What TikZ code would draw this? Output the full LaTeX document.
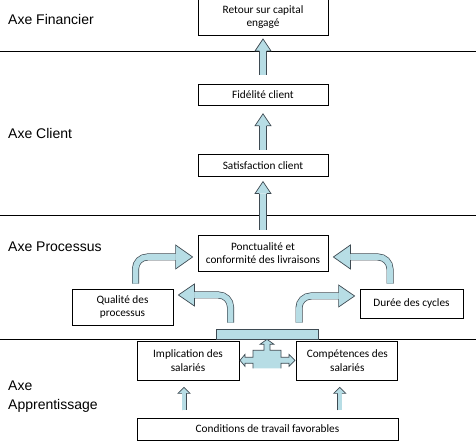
\documentclass[tikz,border=0pt]{standalone}
\usepackage{fontspec}
\setmainfont{Carlito}
\newfontfamily\axefont{Liberation Sans}
\usepackage{xcolor}
\usepackage{tikz}
\usetikzlibrary{positioning}

\definecolor{arrowfill}{RGB}{183,221,229}
\definecolor{arrowline}{RGB}{62,74,82}

\newcommand{\blkhead}[5]{%
  \begin{scope}[shift={(#1)}, rotate=#2]
    \fill[arrowfill] (0,-#3) -- (#4,0) -- (0,#3) -- cycle;
    \draw[arrowline, line width=0.7pt, line join=miter] (0,-#5) -- (0,-#3) -- (#4,0) -- (0,#3) -- (0,#5);
  \end{scope}}

\begin{document}
\begin{tikzpicture}[
    x=1pt, y=1pt,
    box/.style={draw, line width=0.8pt, fill=white, align=center, inner sep=1pt,
                font=\fontsize{11.3}{13.5}\selectfont},
    axe/.style={anchor=west, inner sep=0pt, align=left,
                font=\axefont\fontsize{14}{19}\selectfont},
    sepline/.style={line width=0.8pt},
    shaft/.style={draw=arrowline, line width=0.7pt, double=arrowfill, double distance=#1},
    shaft/.default=6.6pt,
    plat/.style={draw=arrowline, line width=0.7pt, fill=arrowfill, minimum width=102pt,
                 minimum height=10pt, inner sep=0pt}
]
    \useasboundingbox (0,0) rectangle (476,443);

    \draw[sepline] (0,392) -- (476,392);
    \draw[sepline] (0,228) -- (476,228);
    \draw[sepline] (0,104) -- (476,104);

    \node[axe] (financier)   at (8,423) {Axe Financier};
    \node[axe] (client)      at (8,309) {Axe Client};
    \node[axe] (processus)   at (8,196) {Axe Processus};
    \node[axe] (apprent)     at (8,46)  {Axe\\Apprentissage};

    \node[box, minimum width=130pt, minimum height=36pt] (pon) at (263,190) {Ponctualité et\\conformité des livraisons};
    \node[box, minimum width=130pt, minimum height=22pt, above=58pt of pon] (sat) {Satisfaction client};
    \node[box, minimum width=130pt, minimum height=21pt, above=48pt of sat] (fid) {Fidélité client};
    \node[box, minimum width=130pt, minimum height=37pt, above=48pt of fid] (ret) {Retour sur capital\\engagé};

    \node[box, minimum width=101pt, minimum height=36pt] (qual) at (122.5,136) {Qualité des\\processus};
    \node[box, minimum width=103pt, minimum height=29pt] (dur)  at (411.5,139.5) {Durée des cycles};

    \node[box, minimum width=102pt, minimum height=39pt] (impl) at (188,82.5) {Implication des\\salariés};
    \node[box, minimum width=101pt, minimum height=39pt, right=57pt of impl] (comp) {Compétences des\\salariés};
    \node[box, minimum width=261pt, minimum height=22pt] (cond) at (267.5,14) {Conditions de travail favorables};

    \node[plat] (platf) at (267,109) {};

    \draw[shaft] ([yshift=9pt]fid.north) -- ([yshift=-15pt]ret.south);
    \blkhead{[yshift=-15pt]ret.south}{90}{8}{12}{3.65}
    \draw[shaft] ([yshift=4pt]sat.north) -- ([yshift=-20pt]fid.south);
    \blkhead{[yshift=-20pt]fid.south}{90}{8}{12}{3.65}
    \draw[shaft] ([yshift=5pt]pon.north) -- ([yshift=-17pt]sat.south);
    \blkhead{[yshift=-17pt]sat.south}{90}{8}{12}{3.65}

    \draw[shaft=5.6pt, rounded corners=12pt] ([xshift=13pt,yshift=5pt]qual.north) |- ([xshift=-22pt,yshift=-4pt]pon.west);
    \blkhead{[xshift=-22pt,yshift=-4pt]pon.west}{0}{12}{17}{3.15}
    \draw[shaft=5.6pt, rounded corners=12pt] ([xshift=-21.5pt,yshift=5pt]dur.north) |- ([xshift=22pt,yshift=-4pt]pon.east);
    \blkhead{[xshift=22pt,yshift=-4pt]pon.east}{180}{12}{17}{3.15}

    \draw[shaft=5.6pt, rounded corners=12pt] ([xshift=-36.5pt,yshift=6pt]platf.north) |- ([xshift=21pt,yshift=12pt]qual.east);
    \blkhead{[xshift=21pt,yshift=12pt]qual.east}{180}{11}{16}{3.15}
    \draw[shaft=5.6pt, rounded corners=12pt] ([xshift=32pt,yshift=6pt]platf.north) |- ([xshift=-21pt,yshift=7.5pt]dur.west);
    \blkhead{[xshift=-21pt,yshift=7.5pt]dur.west}{0}{11}{16}{3.15}

    \begin{scope}[shift={(platf.south)}]
        \fill[arrowfill] (0,0) -- (7,-5) -- (3,-5) -- (3,-11) -- (14,-11) -- (14,-18) -- (22,-18) -- (22,-15)
            -- (28,-21) -- (22,-27) -- (22,-24) -- (14,-24) -- (14,-29) -- (-14,-29) -- (-14,-24)
            -- (-22,-24) -- (-22,-27) -- (-27,-21) -- (-22,-15) -- (-22,-18) -- (-14,-18) -- (-14,-11)
            -- (-3,-11) -- (-3,-5) -- (-7,-5) -- cycle;
        \draw[arrowline, line width=0.7pt, line join=miter] (14,-29) -- (14,-24) -- (22,-24) -- (22,-27) -- (28,-21)
            -- (22,-15) -- (22,-18) -- (14,-18) -- (14,-11) -- (3,-11) -- (3,-5) -- (7,-5) -- (0,0)
            -- (-7,-5) -- (-3,-5) -- (-3,-11) -- (-14,-11) -- (-14,-18) -- (-22,-18) -- (-22,-15)
            -- (-27,-21) -- (-22,-27) -- (-22,-24) -- (-14,-24) -- (-14,-29);
    \end{scope}

    \draw[shaft=3.6pt] ([xshift=-4pt,yshift=-30pt]impl.south) -- ([xshift=-4pt,yshift=-13pt]impl.south);
    \blkhead{[xshift=-4pt,yshift=-13pt]impl.south}{90}{6}{6}{2.15}
    \draw[shaft=3.6pt] ([xshift=-7.5pt,yshift=-30pt]comp.south) -- ([xshift=-7.5pt,yshift=-13pt]comp.south);
    \blkhead{[xshift=-7.5pt,yshift=-13pt]comp.south}{90}{6}{6}{2.15}
\end{tikzpicture}
\end{document}
